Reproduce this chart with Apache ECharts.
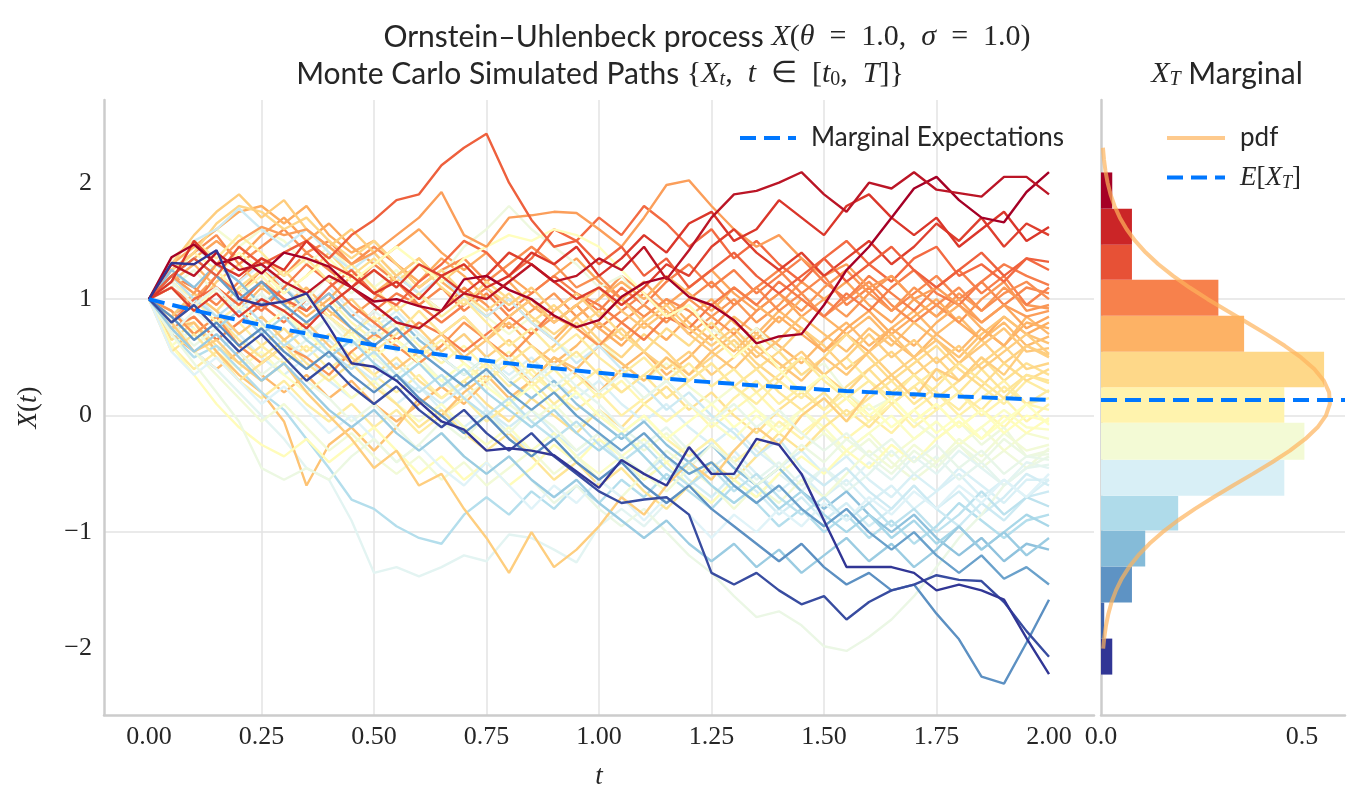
<!DOCTYPE html>
<html><head><meta charset="utf-8">
<script src="https://cdn.jsdelivr.net/npm/echarts@6/dist/echarts.min.js"></script>
<style>html,body{margin:0;padding:0;background:#fff}#c{width:1363px;height:806px}</style>
</head><body><div id="c"></div>
<script>
// ---------------- data ----------------
const times = [0,0.05,0.1,0.15,0.2,0.25,0.3,0.35,0.4,0.45,0.5,0.55,0.6,0.65,0.7,0.75,0.8,0.85,0.9,0.95,1.0,1.05,1.1,1.15,1.2,1.25,1.3,1.35,1.4,1.45,1.5,1.55,1.6,1.65,1.7,1.75,1.8,1.85,1.9,1.95,2.0];
const xTicks = [0,0.25,0.5,0.75,1,1.25,1.5,1.75,2];
const yTicks = [-2,-1,0,1,2];
const histTicks = [0,0.5];
const meanValues = [1.000,0.951,0.905,0.861,0.819,0.779,0.741,0.705,0.670,0.638,0.607,0.577,0.549,0.522,0.497,0.472,0.449,0.427,0.407,0.387,0.368,0.350,0.333,0.317,0.301,0.287,0.273,0.259,0.247,0.235,0.223,0.212,0.202,0.192,0.183,0.174,0.165,0.157,0.150,0.142,0.135];
const expectT = 0.135;
const histEdges = [-2.223,-1.914,-1.605,-1.296,-0.987,-0.687,-0.378,-0.060,0.243,0.549,0.858,1.167,1.468,1.777,2.088];
const histDensity = [0.028,0.008,0.077,0.110,0.192,0.456,0.506,0.456,0.555,0.356,0.292,0.077,0.077,0.028];
const pdfY = [2.3,2.2,2.1,2.0,1.9,1.8,1.7,1.6,1.5,1.4,1.3,1.2,1.1,1.0,0.9,0.8,0.7,0.6,0.5,0.4,0.3,0.2,0.1,0.0,-0.1,-0.2,-0.3,-0.4,-0.5,-0.6,-0.7,-0.8,-0.9,-1.0,-1.1,-1.2,-1.3,-1.4,-1.5,-1.6,-1.7,-1.8,-1.9,-2.0];
const pdfDensity = [0.0048,0.0074,0.0111,0.0164,0.0237,0.0337,0.0469,0.0638,0.0852,0.1113,0.1427,0.1792,0.2204,0.2656,0.3137,0.3631,0.4115,0.4570,0.4976,0.5306,0.5544,0.5675,0.5693,0.5595,0.5388,0.5083,0.4699,0.4256,0.3777,0.3284,0.2798,0.2336,0.1911,0.1531,0.1202,0.0925,0.0697,0.0515,0.0373,0.0264,0.0184,0.0125,0.0083,0.0054];

const paths = [
[1.0,0.85,1.0,1.2,1.05,1.25,1.1,0.9,1.05,0.85,1.0,1.2,1.05,0.9,1.1,0.95,0.75,0.9,1.05,0.85,1.0,1.2,1.05,0.9,0.7,0.85,1.0,0.8,0.95,1.15,1.0,0.85,1.05,1.2,1.0,0.85,1.05,0.9,1.1,0.95,0.92],
[1.0,0.9,0.75,0.55,0.7,0.5,0.35,0.5,0.3,0.15,0.3,0.1,0.25,0.05,-0.1,0.05,-0.15,-0.3,-0.15,-0.35,-0.2,-0.4,-0.55,-0.4,-0.6,-0.45,-0.3,-0.5,-0.65,-0.5,-0.7,-0.55,-0.75,-0.6,-0.8,-0.65,-0.5,-0.7,-0.55,-0.7,-0.55],
[1.0,1.2,1.1,0.95,1.15,1.35,1.2,1.4,1.25,1.1,1.3,1.15,0.95,1.1,0.9,1.05,0.85,1.0,0.8,0.95,0.75,0.9,1.05,0.85,1.0,1.15,0.95,1.1,1.25,1.05,1.2,0.95,1.1,0.9,1.05,1.2,1.0,1.15,0.95,1.1,1.05],
[1.0,0.65,0.8,0.6,0.45,0.6,0.75,0.55,0.7,0.5,0.35,0.5,0.3,0.15,0.3,0.1,-0.05,0.15,0.0,-0.15,0.05,-0.1,0.1,0.25,0.05,0.2,0.0,-0.15,0.05,0.2,0.05,0.25,0.4,0.2,0.35,0.15,0.3,0.5,0.3,0.45,0.35],
[1.0,1.1,1.25,1.05,0.9,1.05,0.85,0.7,0.85,0.65,0.5,0.35,0.5,0.3,0.15,0.3,0.1,-0.05,0.1,-0.1,0.05,-0.15,-0.3,-0.15,-0.35,-0.2,-0.4,-0.25,-0.45,-0.3,-0.15,-0.35,-0.2,-0.4,-0.55,-0.4,-0.25,-0.45,-0.3,-0.45,-0.28],
[1.0,1.3,1.45,1.3,1.15,1.3,1.1,0.95,1.1,0.9,0.75,0.9,0.7,0.55,0.7,0.5,0.35,0.5,0.3,0.15,0.3,0.1,-0.05,0.1,-0.1,-0.25,-0.1,-0.3,-0.45,-0.3,-0.5,-0.35,-0.55,-0.7,-0.5,-0.65,-0.45,-0.6,-0.75,-0.55,-0.55],
[1.0,0.8,0.95,0.75,0.9,1.1,0.95,1.1,0.9,0.75,0.6,0.75,0.55,0.7,0.85,0.65,0.8,0.6,0.45,0.6,0.8,0.65,0.85,1.0,0.8,0.65,0.85,0.7,0.9,0.75,0.55,0.7,0.85,0.65,0.5,0.7,0.85,0.65,0.8,0.6,0.68],
[1.0,0.7,0.55,0.4,0.55,0.35,0.2,0.35,0.15,0.3,0.1,-0.05,0.1,0.25,0.1,0.3,0.45,0.3,0.5,0.35,0.2,0.4,0.55,0.35,0.5,0.7,0.55,0.75,0.6,0.45,0.65,0.8,0.6,0.75,0.9,0.7,0.55,0.75,0.6,0.85,0.7],
[1.0,0.7,0.85,0.65,0.8,0.6,0.45,0.6,0.4,0.55,0.35,0.2,0.35,0.15,0.3,0.45,0.25,0.4,0.2,0.05,0.2,0.0,0.15,0.3,0.1,-0.05,0.15,0.3,0.1,0.25,0.05,0.2,0.0,-0.15,0.05,0.2,0.0,0.15,0.3,0.1,0.15],
[1.0,1.3,1.45,1.6,1.45,1.6,1.5,1.3,1.45,1.25,1.1,1.25,1.05,0.9,1.05,0.85,0.7,0.85,0.65,0.5,0.65,0.45,0.3,0.45,0.25,0.1,0.25,0.05,-0.1,0.05,-0.15,-0.3,-0.15,-0.35,-0.2,-0.05,-0.25,-0.1,-0.3,-0.15,-0.2],
[1.0,1.2,1.35,1.5,1.35,1.55,1.7,1.5,1.65,1.45,1.3,1.45,1.6,1.4,1.25,1.4,1.2,1.05,1.2,1.35,1.15,1.0,1.15,0.95,1.1,1.25,1.05,0.9,1.05,0.85,1.0,1.15,0.95,0.8,1.0,0.85,1.0,0.8,0.95,0.75,0.85],
[1.0,0.75,0.85,0.65,0.8,0.95,0.8,1.0,0.85,0.7,0.9,1.05,0.95,0.8,0.95,1.1,0.9,1.05,1.2,1.05,0.9,1.1,0.95,1.15,1.3,1.1,1.25,1.05,1.2,1.35,1.15,1.0,1.2,1.05,0.9,1.1,1.25,1.05,1.2,0.95,1.1],
[1.0,1.1,0.9,1.15,1.3,1.1,1.25,1.05,0.85,1.0,0.8,0.95,0.75,0.55,0.7,0.5,0.65,0.45,0.6,0.8,0.6,0.75,0.55,0.4,0.55,0.35,0.5,0.7,0.55,0.75,0.6,0.4,0.55,0.35,0.5,0.3,0.45,0.65,0.45,0.6,0.5],
[1.0,0.75,0.55,0.4,0.2,0.0,-0.2,-0.45,-0.55,-0.9,-1.35,-1.3,-1.38,-1.3,-1.2,-1.25,-1.02,-1.05,-1.15,-1.26,-0.95,-0.8,-0.95,-0.75,-0.6,-0.75,-0.55,-0.7,-0.5,-0.65,-0.45,-0.6,-0.4,-0.55,-0.35,-0.5,-0.3,-0.45,-0.6,-0.4,-0.45],
[1.0,1.3,1.45,1.6,1.75,1.8,1.65,1.8,1.55,1.4,1.5,1.3,1.15,1.35,1.2,1.0,1.15,0.95,0.8,0.95,0.75,0.6,0.8,0.65,0.85,1.0,0.8,0.65,0.85,0.7,0.55,0.75,0.9,0.7,0.85,1.0,0.8,0.65,0.85,0.7,0.8],
[1.0,1.2,1.4,1.25,1.05,1.2,1.0,0.85,1.0,0.8,0.65,0.8,0.6,0.45,0.6,0.4,0.55,0.35,0.2,0.35,0.15,0.3,0.1,-0.05,0.1,-0.1,0.05,0.2,0.0,-0.15,0.0,-0.2,-0.05,0.15,-0.05,0.1,-0.1,0.05,-0.1,0.1,0.05],
[1.0,1.2,1.05,0.9,1.1,0.95,1.15,1.0,1.2,1.05,1.25,1.1,1.3,1.2,1.45,1.6,1.8,1.6,1.45,1.3,1.1,1.2,0.95,0.8,0.95,0.75,0.6,0.75,0.55,0.35,0.45,0.2,0.05,0.15,-0.05,-0.2,-0.05,-0.25,-0.1,-0.35,-0.3],
[1.0,1.25,1.4,1.55,1.3,1.45,1.6,1.4,1.5,1.3,1.45,1.3,1.1,1.25,1.35,1.15,1.3,1.45,1.3,1.1,1.2,1.0,0.85,1.0,0.9,0.75,0.95,1.1,0.9,1.05,0.85,1.0,1.15,0.95,0.8,0.95,1.1,0.9,1.05,1.15,1.0],
[1.0,1.25,1.4,1.65,1.8,1.75,1.6,1.7,1.5,1.35,1.5,1.3,1.1,1.25,1.05,0.9,1.05,0.85,0.7,0.85,0.65,0.5,0.7,0.55,0.35,0.5,0.65,0.45,0.3,0.5,0.35,0.2,0.4,0.55,0.35,0.5,0.3,0.45,0.6,0.4,0.45],
[1.0,0.85,1.05,0.85,0.7,0.85,0.65,0.5,0.65,0.45,0.3,0.45,0.25,0.1,0.25,0.05,-0.1,0.05,-0.15,-0.3,-0.15,-0.35,-0.5,-0.35,-0.55,-0.7,-0.5,-0.65,-0.85,-0.7,-0.9,-0.75,-0.95,-0.8,-0.6,-0.8,-0.65,-0.85,-0.7,-0.5,-0.6],
[1.0,0.6,0.4,0.55,0.3,0.15,0.3,0.1,-0.05,0.1,-0.1,0.05,-0.15,0.0,0.15,-0.05,0.1,0.3,0.1,0.25,0.4,0.2,0.35,0.5,0.3,0.45,0.25,0.1,0.3,0.15,0.35,0.5,0.3,0.15,0.35,0.2,0.05,0.25,0.1,0.3,0.2],
[1.0,0.6,0.75,0.55,0.4,0.55,0.35,0.2,0.35,0.15,0.3,0.1,-0.05,0.1,-0.1,-0.25,-0.1,-0.3,-0.15,-0.35,-0.5,-0.35,-0.2,-0.4,-0.25,-0.05,-0.2,0.0,-0.15,0.05,-0.1,-0.3,-0.15,0.0,-0.2,-0.05,-0.25,-0.1,0.05,-0.1,-0.12],
[1.0,0.75,0.8,0.55,0.35,0.2,-0.05,-0.6,-0.25,-0.1,-0.3,-0.1,0.15,0.0,0.2,0.35,0.15,0.3,0.5,0.4,0.6,0.45,0.3,0.5,0.35,0.55,0.7,0.5,0.65,0.85,0.7,0.55,0.75,0.6,0.8,0.65,0.5,0.7,0.85,0.7,0.62],
[1.0,0.7,0.5,0.6,0.4,0.2,0.05,-0.2,-0.45,-0.72,-0.8,-0.95,-1.05,-1.1,-0.85,-0.7,-0.85,-0.65,-0.8,-0.6,-0.75,-0.55,-0.7,-0.5,-0.65,-0.8,-0.6,-0.75,-0.95,-0.8,-1.0,-0.85,-1.05,-0.9,-1.1,-0.95,-0.75,-0.9,-1.05,-0.9,-0.85],
[1.0,0.9,0.7,0.85,0.65,0.5,0.65,0.45,0.3,0.45,0.25,0.1,-0.1,0.05,-0.15,-0.3,-0.15,-0.35,-0.55,-0.4,-0.6,-0.45,-0.65,-0.8,-0.6,-0.4,-0.55,-0.35,-0.15,-0.3,-0.1,0.05,-0.1,0.1,0.25,0.05,0.2,0.4,0.2,0.35,0.3],
[1.0,0.6,0.35,0.1,-0.1,-0.25,-0.35,-0.2,-0.4,-0.25,-0.1,-0.3,-0.5,-0.35,-0.55,-0.4,-0.6,-0.45,-0.25,-0.4,-0.2,-0.35,-0.55,-0.4,-0.6,-0.75,-0.55,-0.7,-0.5,-0.35,-0.5,-0.3,-0.45,-0.25,-0.4,-0.2,-0.05,-0.2,0.0,-0.15,-0.02],
[1.0,0.8,0.6,0.75,0.55,0.35,0.5,0.3,0.15,-0.05,0.1,-0.1,-0.3,-0.15,-0.35,-0.5,-0.35,-0.55,-0.75,-0.6,-0.8,-0.95,-0.8,-1.0,-1.2,-1.35,-1.55,-1.73,-1.68,-1.8,-1.98,-2.02,-1.9,-1.75,-1.55,-1.3,-1.05,-0.85,-0.6,-0.45,-0.35],
[1.0,0.9,0.7,0.85,0.6,0.45,0.6,0.5,0.35,0.55,0.7,0.6,0.45,0.6,0.8,0.65,0.5,0.7,0.85,0.75,0.6,0.8,0.95,0.8,1.0,0.85,0.7,0.9,1.05,0.9,1.1,1.25,1.05,0.9,1.1,0.95,0.8,1.0,1.15,0.9,0.95],
[1.0,0.7,0.9,0.75,0.55,0.7,0.5,0.65,0.85,0.7,0.9,0.75,0.55,0.7,0.5,0.35,0.5,0.3,0.45,0.25,0.1,-0.1,-0.25,-0.1,-0.3,-0.5,-0.35,-0.55,-0.4,-0.6,-0.45,-0.65,-0.5,-0.3,-0.5,-0.35,-0.55,-0.4,-0.6,-0.45,-0.42],
[1.0,1.15,1.3,1.1,0.95,1.15,1.0,0.85,1.0,1.2,1.05,1.2,1.35,1.15,1.0,0.85,1.0,0.8,0.65,0.85,1.0,1.15,1.0,1.2,1.05,0.9,1.1,0.95,0.8,1.0,0.85,0.7,0.55,0.75,0.6,0.8,0.95,0.75,0.6,0.8,0.75],
[1.0,1.2,1.05,0.9,1.1,1.25,1.05,1.2,1.4,1.2,1.35,1.15,1.3,1.1,0.95,1.15,1.0,0.8,0.95,0.75,0.9,0.7,0.55,0.75,0.6,0.8,0.6,0.4,0.55,0.35,0.5,0.7,0.5,0.3,0.45,0.6,0.4,0.25,0.45,0.3,0.4],
[1.0,1.15,1.0,0.8,0.95,0.75,0.9,1.05,0.85,0.7,0.85,0.65,0.5,0.65,0.45,0.3,0.45,0.25,0.4,0.2,0.0,-0.15,0.0,-0.2,-0.35,-0.2,-0.4,-0.25,-0.05,-0.2,0.0,0.15,-0.05,0.1,-0.1,0.05,0.2,0.0,0.15,-0.05,0.1],
[1.0,0.75,0.55,0.35,0.15,-0.05,0.1,-0.1,-0.3,-0.15,-0.35,-0.5,-0.35,-0.55,-0.4,-0.6,-0.45,-0.3,-0.5,-0.35,-0.55,-0.7,-0.5,-0.65,-0.45,-0.6,-0.8,-0.6,-0.75,-0.55,-0.7,-0.5,-0.3,-0.45,-0.25,-0.4,-0.2,-0.35,-0.15,-0.3,-0.25],
[1.0,1.25,1.1,1.3,1.15,0.95,1.1,0.9,1.05,0.85,0.7,0.85,0.65,0.5,0.35,0.5,0.3,0.15,0.3,0.1,-0.05,-0.2,-0.05,-0.25,-0.4,-0.25,-0.45,-0.6,-0.45,-0.65,-0.8,-0.65,-0.85,-1.0,-0.85,-1.05,-1.2,-1.05,-1.25,-1.1,-1.15],
[1.0,1.1,0.95,1.2,1.05,0.9,1.1,1.3,1.15,0.95,0.8,0.65,0.8,0.7,0.55,0.7,0.85,0.7,0.9,1.05,0.95,0.8,0.65,0.85,0.75,0.95,1.1,0.95,1.15,1.0,0.85,1.05,0.9,1.1,1.25,1.05,0.95,1.15,1.3,1.2,1.12],
[1.0,1.35,1.5,1.6,1.78,1.6,1.45,1.6,1.4,1.25,1.4,1.2,1.05,1.2,1.0,0.85,1.0,0.8,0.65,0.45,0.6,0.4,0.25,0.05,0.2,0.0,-0.15,-0.35,-0.2,-0.45,-0.6,-0.45,-0.65,-0.8,-0.6,-0.8,-0.95,-0.75,-0.9,-0.7,-0.65],
[1.0,0.85,1.05,0.9,0.7,0.85,0.65,0.8,0.6,0.45,0.6,0.4,0.55,0.7,0.5,0.65,0.85,1.0,0.8,0.95,1.1,0.9,0.75,0.9,0.7,0.55,0.4,0.6,0.45,0.3,0.5,0.35,0.55,0.7,0.5,0.65,0.45,0.6,0.75,0.55,0.58],
[1.0,0.55,0.7,0.5,0.3,0.45,0.6,0.4,0.55,0.75,0.55,0.7,0.9,0.7,0.85,0.65,0.45,0.6,0.4,0.55,0.35,0.2,0.35,0.15,0.3,0.45,0.25,0.4,0.2,0.05,0.2,0.0,0.15,0.3,0.1,0.25,0.45,0.3,0.15,0.35,0.28],
[1.0,1.35,1.5,1.35,1.55,1.4,1.2,1.35,1.15,1.3,1.1,0.9,1.05,0.85,1.0,0.8,0.6,0.75,0.55,0.7,0.5,0.35,0.5,0.3,0.45,0.25,0.4,0.2,0.35,0.5,0.3,0.15,0.3,0.1,0.25,0.4,0.2,0.05,0.25,0.1,0.22],
[1.0,1.1,0.9,1.1,0.95,0.75,0.9,0.7,0.55,0.7,0.5,0.65,0.45,0.3,0.45,0.25,0.1,0.25,0.05,0.2,0.0,-0.15,0.0,-0.2,-0.05,0.1,-0.1,0.05,-0.15,0.0,0.15,-0.05,0.1,-0.1,0.05,-0.15,0.0,-0.2,-0.05,0.1,-0.08],
[1.0,1.2,1.0,0.85,1.0,0.8,0.6,0.75,0.55,0.4,0.55,0.35,0.2,0.35,0.15,0.0,0.15,-0.05,-0.2,-0.05,-0.25,-0.4,-0.25,-0.45,-0.6,-0.45,-0.65,-0.5,-0.7,-0.85,-0.7,-0.9,-0.75,-0.95,-0.8,-1.0,-0.85,-0.65,-0.85,-0.7,-0.78],
[1.0,0.8,1.0,1.1,0.95,1.15,1.0,0.9,1.1,1.25,1.05,0.95,1.15,1.3,1.5,1.4,1.2,1.35,1.6,1.5,1.7,1.55,1.8,1.65,1.45,1.6,1.35,1.5,1.3,1.15,1.35,1.5,1.3,1.15,1.35,1.45,1.2,1.3,1.15,1.35,1.25],
[1.0,0.55,0.35,0.5,0.3,0.1,0.25,0.05,-0.15,0.0,-0.2,-0.4,-0.25,-0.45,-0.6,-0.4,-0.6,-0.8,-0.6,-0.75,-0.55,-0.7,-0.9,-0.7,-0.85,-1.05,-0.85,-1.0,-0.8,-0.95,-0.75,-0.9,-0.7,-0.85,-0.65,-0.8,-0.6,-0.75,-0.55,-0.7,-0.5],
[1.0,1.3,1.55,1.75,1.9,1.7,1.85,1.6,1.45,1.6,1.4,1.2,1.35,1.15,1.3,1.1,0.95,1.1,0.9,1.05,0.85,1.0,0.8,0.95,0.75,0.6,0.75,0.55,0.4,0.55,0.35,0.5,0.7,0.5,0.65,0.45,0.6,0.4,0.55,0.7,0.53],
[1.0,1.2,1.35,1.2,1.4,1.25,1.05,1.2,1.35,1.15,1.3,1.45,1.3,1.15,1.35,1.45,1.55,1.5,1.6,1.55,1.45,1.25,1.05,0.85,0.95,0.7,0.5,0.65,0.4,0.2,0.35,0.15,0.0,0.15,-0.05,0.1,-0.1,0.05,-0.15,0.0,-0.05],
[1.0,0.7,0.45,0.2,-0.05,-0.45,-0.55,-0.45,-0.55,-0.35,-0.2,-0.4,-0.25,-0.05,-0.2,0.0,-0.15,0.05,-0.1,-0.3,-0.15,-0.35,-0.5,-0.3,-0.45,-0.25,-0.4,-0.6,-0.45,-0.25,-0.4,-0.2,-0.35,-0.5,-0.3,-0.45,-0.25,-0.4,-0.2,-0.35,-0.33],
[1.0,0.8,0.55,0.65,0.45,0.3,0.45,0.2,0.0,-0.2,-0.45,-0.3,-0.6,-0.5,-0.8,-1.05,-1.35,-1.0,-1.3,-1.15,-0.95,-0.7,-0.85,-0.6,-0.4,-0.55,-0.3,-0.1,-0.25,0.0,0.15,-0.05,0.2,0.35,0.15,0.4,0.3,0.5,0.35,0.6,0.52],
[1.0,1.15,0.95,1.1,0.9,1.05,0.85,1.0,0.8,0.6,0.75,0.55,0.7,0.5,0.35,0.5,0.3,0.45,0.25,0.4,0.2,0.35,0.15,0.3,0.1,-0.05,0.1,-0.1,0.05,-0.15,-0.3,-0.15,-0.35,-0.2,-0.4,-0.25,-0.45,-0.3,-0.5,-0.35,-0.38],
[1.0,0.8,0.95,0.75,0.9,0.7,0.85,0.65,0.5,0.65,0.45,0.3,0.45,0.25,0.4,0.2,0.05,-0.1,0.05,-0.15,-0.3,-0.15,-0.35,-0.55,-0.4,-0.6,-0.75,-0.6,-0.8,-0.65,-0.85,-1.0,-0.85,-1.05,-0.9,-1.1,-0.95,-1.15,-1.0,-0.85,-0.95],
[1.0,0.75,0.55,0.7,0.5,0.3,0.45,0.25,0.05,-0.1,0.05,-0.15,-0.3,-0.15,-0.35,-0.5,-0.35,-0.55,-0.7,-0.55,-0.75,-0.9,-1.05,-0.9,-1.1,-1.25,-1.1,-1.3,-1.15,-1.35,-1.2,-1.05,-1.25,-1.1,-1.3,-1.15,-0.95,-1.15,-1.0,-1.2,-1.05],
[1.0,1.2,1.05,1.3,1.5,1.62,1.55,1.6,1.45,1.3,1.4,1.55,1.7,1.92,1.55,1.45,1.7,1.72,1.75,1.74,1.6,1.45,1.7,1.98,2.02,1.8,1.6,1.45,1.55,1.35,1.2,1.3,1.1,1.2,1.0,1.1,0.95,0.8,0.95,0.85,0.9],
[1.0,1.1,0.9,1.05,0.85,1.0,0.9,0.75,0.95,1.1,1.25,1.1,1.3,1.2,1.05,1.2,1.4,1.3,1.15,1.0,1.1,0.95,1.1,1.3,1.2,1.45,1.6,1.4,1.25,1.4,1.2,1.35,1.5,1.3,1.45,1.65,1.5,1.7,1.45,1.65,1.55],
[1.0,1.2,1.35,1.2,1.0,1.15,0.95,0.8,0.95,0.75,0.6,0.75,0.55,0.4,0.25,0.4,0.2,0.05,0.2,0.0,-0.15,-0.3,-0.15,-0.35,-0.5,-0.4,-0.6,-0.75,-0.6,-0.8,-0.95,-0.8,-1.0,-1.15,-1.0,-1.2,-1.35,-1.2,-1.4,-1.3,-1.45],
[1.0,0.85,0.65,0.8,0.6,0.75,0.55,0.4,0.55,0.35,0.2,0.35,0.15,0.0,-0.15,0.0,-0.2,-0.35,-0.2,-0.4,-0.55,-0.4,-0.6,-0.75,-0.6,-0.8,-0.95,-1.1,-1.25,-1.1,-1.3,-1.45,-1.35,-1.5,-1.45,-1.7,-1.92,-2.24,-2.3,-1.95,-1.58],
[1.0,1.2,1.35,1.2,1.45,1.3,1.4,1.5,1.35,1.55,1.68,1.85,1.9,2.15,2.3,2.42,2.0,1.68,1.45,1.5,1.3,1.45,1.2,1.35,1.1,1.25,1.4,1.2,1.05,1.2,1.35,1.15,1.3,1.45,1.25,1.1,1.25,1.4,1.2,1.35,1.32],
[1.0,1.15,1.5,1.3,1.2,1.35,1.25,1.5,1.3,1.2,1.05,1.15,1.0,1.2,1.3,1.1,1.2,1.4,1.3,1.45,1.2,1.35,1.55,1.4,1.65,1.75,1.5,1.6,1.85,1.7,1.55,1.8,1.9,1.7,1.55,1.7,1.45,1.6,1.75,1.5,1.62],
[1.0,1.36,1.47,1.3,1.36,1.22,1.4,1.35,1.28,1.1,0.98,1.0,0.94,0.9,1.17,1.2,1.08,1.0,0.86,0.76,0.82,1.02,1.14,1.19,1.02,0.95,0.82,0.62,0.68,0.7,0.95,1.25,1.45,1.7,1.95,2.05,1.85,1.7,1.66,1.92,2.09],
[1.0,1.3,1.2,1.4,1.25,1.3,1.15,1.05,1.2,1.1,0.95,0.8,0.75,0.9,1.05,1.0,1.15,1.3,1.15,1.2,1.35,1.25,1.45,1.17,1.42,1.7,1.9,1.93,2.0,2.09,1.9,1.75,2.0,1.95,2.09,1.94,1.91,1.88,2.05,2.05,1.9],
[1.0,0.8,0.95,0.75,0.55,0.7,0.5,0.3,0.45,0.25,0.1,0.25,0.05,-0.1,0.05,-0.15,-0.3,-0.15,-0.35,-0.5,-0.65,-0.75,-0.72,-0.7,-0.85,-1.35,-1.45,-1.35,-1.5,-1.62,-1.55,-1.75,-1.6,-1.5,-1.45,-1.37,-1.41,-1.42,-1.6,-1.85,-2.07],
[1.0,1.31,1.3,1.42,1.0,0.95,0.98,1.05,0.76,0.45,0.42,0.3,0.12,-0.05,-0.12,-0.3,-0.28,-0.3,-0.34,-0.48,-0.62,-0.38,-0.5,-0.6,-0.27,-0.5,-0.5,-0.2,-0.25,-0.5,-0.9,-1.3,-1.3,-1.3,-1.35,-1.5,-1.45,-1.5,-1.58,-1.91,-2.22]
];

// ---------------- styling ----------------
const SANS = 'Lato';
const SERIF = 'Liberation Serif';
const INK = '#262626';
const GRID_C = '#e3e3e3';
const SPINE_C = '#cccccc';
const MEAN_C = '#0077ff';
const PDF_C = '#fdb45c';
const cmapStops = ['#313695','#4575b4','#74add1','#abd9e9','#e0f3f8','#ffffbf','#fee090','#fdae61','#f46d43','#d73027','#a50026'];
function hex2rgb(h){return [parseInt(h.substr(1,2),16),parseInt(h.substr(3,2),16),parseInt(h.substr(5,2),16)];}
function cmap(f){
  f = Math.max(0, Math.min(1, f));
  const p = f * (cmapStops.length - 1);
  const i = Math.min(cmapStops.length - 2, Math.floor(p));
  const r = p - i;
  const a = hex2rgb(cmapStops[i]), b = hex2rgb(cmapStops[i+1]);
  const c = a.map((v,k)=>Math.round(v + (b[k]-v)*r));
  return 'rgb(' + c.join(',') + ')';
}
const finals = paths.map(p => p[p.length-1]);
const fMin = Math.min(...finals), fMax = Math.max(...finals);

const N = 'normal';
const rich = {
  s:   {fontFamily: SANS, fontSize: 30, fontWeight: N, color: INK},
  ls:  {fontFamily: SANS, fontSize: 26, fontWeight: N, color: INK},
  m:   {fontFamily: SERIF, fontStyle: 'italic', fontSize: 30, fontWeight: N, color: INK},
  r:   {fontFamily: SERIF, fontSize: 30, fontWeight: N, color: INK},
  sub: {fontFamily: SERIF, fontStyle: 'italic', fontSize: 20, fontWeight: N, color: INK, padding: [12,0,0,0]},
  subr:{fontFamily: SERIF, fontSize: 20, fontWeight: N, color: INK, padding: [12,0,0,0]},
  lm:  {fontFamily: SERIF, fontStyle: 'italic', fontSize: 27, fontWeight: N, color: INK},
  lr:  {fontFamily: SERIF, fontSize: 27, fontWeight: N, color: INK},
  lsub:{fontFamily: SERIF, fontStyle: 'italic', fontSize: 18, fontWeight: N, color: INK, padding: [11,0,0,0]}
};

const series = [];
paths.forEach((vals, i) => {
  series.push({
    type: 'line', xAxisIndex: 0, yAxisIndex: 0, silent: true,
    data: times.map((t, j) => [t, vals[j]]),
    symbol: 'none',
    lineStyle: {width: 2.4, color: cmap((finals[i] - fMin) / (fMax - fMin))},
    z: 2
  });
});
series.push({
  name: 'Marginal Expectations', type: 'line', xAxisIndex: 0, yAxisIndex: 0, silent: true,
  data: times.map((t, j) => [t, meanValues[j]]),
  symbol: 'none',
  lineStyle: {width: 4, color: MEAN_C, type: [16, 8]},
  itemStyle: {color: MEAN_C},
  z: 5
});
series.push({
  type: 'custom', xAxisIndex: 1, yAxisIndex: 1, silent: true,
  data: histDensity.map((d, i) => [histEdges[i], histEdges[i+1], d, i]),
  encode: {x: 2, y: [0, 1]},
  renderItem: function(params, api){
    const lo = api.value(0), hi = api.value(1), d = api.value(2), i = api.value(3);
    const p1 = api.coord([0, hi]);
    const p2 = api.coord([d, lo]);
    return {type: 'rect', shape: {x: p1[0], y: p1[1], width: p2[0]-p1[0], height: p2[1]-p1[1]},
            style: {fill: cmap(i / (histDensity.length - 1))}};
  },
  z: 2
});
series.push({
  name: 'pdf', type: 'line', xAxisIndex: 1, yAxisIndex: 1, silent: true,
  data: pdfY.map((y, i) => [pdfDensity[i], y]),
  symbol: 'none',
  lineStyle: {width: 4, color: PDF_C, opacity: 0.7},
  itemStyle: {color: PDF_C},
  z: 4
});
series.push({
  name: 'E[X_T]', type: 'line', xAxisIndex: 1, yAxisIndex: 1, silent: true,
  data: [],
  symbol: 'none',
  lineStyle: {width: 4, color: MEAN_C, type: [16, 8]},
  itemStyle: {color: MEAN_C},
  markLine: {silent: true, symbol: 'none', label: {show: false},
             lineStyle: {width: 4, color: MEAN_C, type: [16, 8]},
             data: [{yAxis: expectT}]},
  z: 5
});

const tickLabel = {fontFamily: SERIF, fontSize: 26, color: INK};
const minus = v => (v < 0 ? '\u2212' + Math.abs(v) : String(v));
const titleStyle = {fontFamily: SERIF, fontSize: 30, fontWeight: N, color: INK, rich: rich};
const E = '\u2002';

const option = {
  animation: false,
  backgroundColor: '#ffffff',
  title: [
    {text: '{s|Ornstein\u2013Uhlenbeck process }{m|X}{r|(}{m|θ}{r|' + E + '=' + E + '1.0,' + E + '}{m|σ}{r|' + E + '=' + E + '1.0)}',
     left: 702, top: 17, textAlign: 'center', textStyle: titleStyle},
    {text: '{s|Monte Carlo Simulated Paths }{r|{}{m|X}{sub|t}{r|,' + E + '}{m|t}{r|' + E + '∈' + E + '[}{m|t}{subr|0}{r|,' + E + '}{m|T}{r|]}}',
     left: 595, top: 53, textAlign: 'center', textStyle: titleStyle},
    {text: '{m|X}{sub|T}{s| Marginal}',
     left: 1222, top: 53, textAlign: 'center', textStyle: titleStyle}
  ],
  legend: [
    {data: ['Marginal Expectations'], left: 733, top: 120, itemWidth: 56, itemHeight: 14, itemGap: 10,
     selectedMode: false, itemStyle: {opacity: 0}, lineStyle: {width: 4},
     textStyle: {fontFamily: SANS, fontSize: 26, color: INK, padding: [0,0,0,10]}},
    {data: ['pdf', 'E[X_T]'], left: 1160, top: 120, orient: 'vertical', itemWidth: 58, itemHeight: 14, itemGap: 13,
     selectedMode: false, itemStyle: {opacity: 0}, lineStyle: {width: 4},
     formatter: name => (name === 'pdf' ? '{ls|pdf}' : '{lm|E}{lr|[}{lm|X}{lsub|T}{lr|]}'),
     textStyle: {fontFamily: SANS, fontSize: 26, color: INK, padding: [0,0,0,10], rich: rich}}
  ],
  grid: [
    {left: 104, top: 100, width: 990, height: 615},
    {left: 1101, top: 100, width: 244, height: 615}
  ],
  xAxis: [
    {type: 'value', gridIndex: 0, min: -0.1, max: 2.1,
     axisLine: {show: true, onZero: false, lineStyle: {color: SPINE_C, width: 2.5}},
     axisTick: {show: false, customValues: xTicks},
     axisLabel: Object.assign({customValues: xTicks, margin: 9, formatter: v => v.toFixed(2)}, tickLabel),
     splitLine: {show: true, showMinLine: false, showMaxLine: false, lineStyle: {color: GRID_C, width: 1.5}},
     name: 't', nameLocation: 'middle', nameGap: 48,
     nameTextStyle: {fontFamily: SERIF, fontStyle: 'italic', fontSize: 27, color: INK}},
    {type: 'value', gridIndex: 1, min: 0, max: 0.607,
     axisLine: {show: true, onZero: false, lineStyle: {color: SPINE_C, width: 2.5}},
     axisTick: {show: false, customValues: histTicks},
     axisLabel: Object.assign({customValues: histTicks, margin: 9, formatter: v => v.toFixed(1)}, tickLabel),
     splitLine: {show: true, showMinLine: false, showMaxLine: false, lineStyle: {color: GRID_C, width: 1.5}}}
  ],
  yAxis: [
    {type: 'value', gridIndex: 0, min: -2.57, max: 2.71,
     axisLine: {show: true, onZero: false, lineStyle: {color: SPINE_C, width: 2.5}},
     axisTick: {show: false, customValues: yTicks},
     axisLabel: Object.assign({customValues: yTicks, margin: 12, formatter: minus}, tickLabel),
     splitLine: {show: true, showMinLine: false, showMaxLine: false, lineStyle: {color: GRID_C, width: 1.5}},
     name: '{m|X}{r|(}{m|t}{r|)}', nameLocation: 'middle', nameGap: 62, nameRotate: 90,
     nameTextStyle: {fontFamily: SERIF, fontSize: 27, color: INK,
       rich: {m: {fontFamily: SERIF, fontStyle: 'italic', fontSize: 27, color: INK}, r: {fontFamily: SERIF, fontSize: 27, color: INK}}}},
    {type: 'value', gridIndex: 1, min: -2.57, max: 2.71,
     axisLine: {show: true, onZero: false, lineStyle: {color: SPINE_C, width: 2.5}},
     axisTick: {show: false, customValues: yTicks},
     axisLabel: {show: false, customValues: yTicks},
     splitLine: {show: true, showMinLine: false, showMaxLine: false, lineStyle: {color: GRID_C, width: 1.5}}}
  ],
  series: series
};
const chart = echarts.init(document.getElementById('c'), null, {renderer: 'canvas'});
chart.setOption(option);
</script>
</body></html>
